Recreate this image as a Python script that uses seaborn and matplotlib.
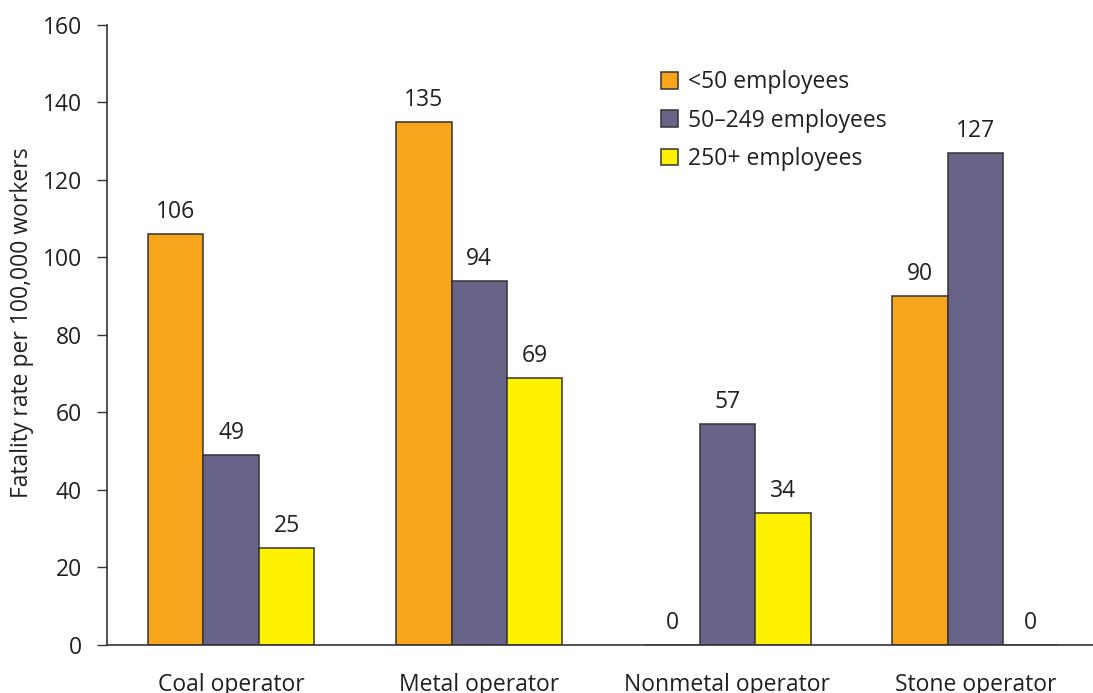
import matplotlib
matplotlib.use("Agg")
import matplotlib.pyplot as plt
import seaborn as sns
import pandas as pd

categories = ["Coal operator", "Metal operator", "Nonmetal operator", "Stone operator"]
series_names = ["<50 employees", "50\u2013249 employees", "250+ employees"]
small = [106, 135, 0, 90]
medium = [49, 94, 57, 127]
large = [25, 69, 34, 0]
colors = ["#F7A51C", "#686487", "#FFF200"]

rows = []
for name, vals in zip(series_names, [small, medium, large]):
    for c, v in zip(categories, vals):
        rows.append({"category": c, "series": name, "value": v})
df = pd.DataFrame(rows)

sns.set_theme(style="white")
plt.rcParams["font.family"] = ["Open Sans", "DejaVu Sans"]

fig = plt.figure(figsize=(10.93, 6.93), dpi=100)
ax = fig.add_axes([0.098, 0.0693, 0.908, 0.8947])

sns.barplot(data=df, x="category", y="value", hue="series", order=categories,
            hue_order=series_names, palette=colors, width=0.67, gap=0,
            edgecolor="#333333", linewidth=1.1, ax=ax, saturation=1)

for cont in ax.containers:
    ax.bar_label(cont, fmt="%d", padding=7, fontsize=16.5, color="#231f20")

ax.set_ylim(0, 160)
ax.set_xlim(-0.5, 3.5)
ax.set_yticks(range(0, 161, 20))
ax.tick_params(axis="y", which="both", left=True, length=7, width=1, color="#333333",
               labelsize=16.5, labelcolor="#231f20", pad=11)
ax.tick_params(axis="x", bottom=False, labelsize=16.5, labelcolor="#231f20", pad=14)
ax.set_xlabel("")
ax.set_ylabel("Fatality rate per 100,000 workers", fontsize=16.5, color="#231f20")
ax.yaxis.set_label_coords(-0.074, 0.52)
for s in ["top", "right"]:
    ax.spines[s].set_visible(False)
for s in ["left", "bottom"]:
    ax.spines[s].set_color("#333333")
    ax.spines[s].set_linewidth(1.2)

leg = ax.legend(loc="upper left", bbox_to_anchor=(0.558, 0.927), frameon=False,
                fontsize=16.5, handlelength=0.75, handleheight=0.75, handletextpad=0.45,
                labelspacing=0.63, borderpad=0, borderaxespad=0, labelcolor="#231f20")

fig.savefig("out.png", dpi=100)
